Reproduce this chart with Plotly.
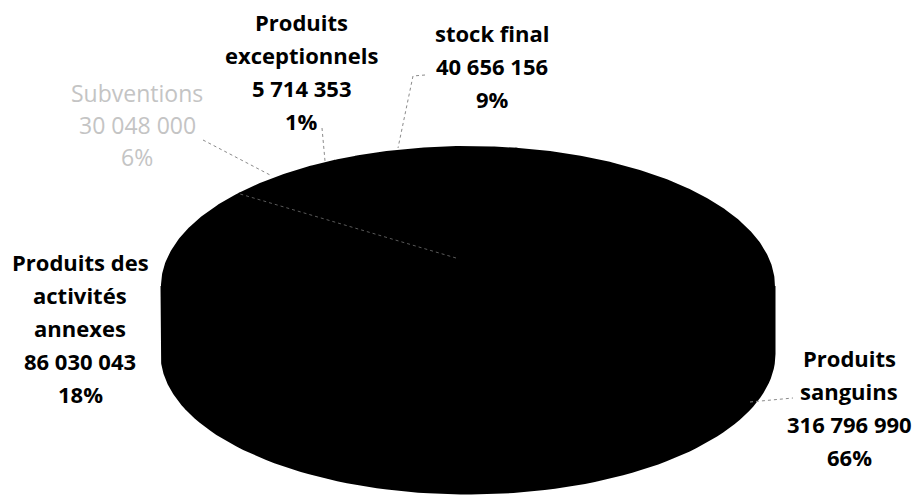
import numpy as np
import plotly.graph_objects as go

# Revenue breakdown (FCFA)
labels = ["Produits sanguins", "Produits des activités annexes", "Subventions",
          "Produits exceptionnels", "stock final"]
values = [316796990, 86030043, 30048000, 5714353, 40656156]
shares = ["66%", "18%", "6%", "1%", "9%"]
name_lines = [["Produits", "sanguins"], ["Produits des", "activités", "annexes"],
              ["Subventions"], ["Produits", "exceptionnels"], ["stock final"]]

# 3-D pie geometry (pixel units of the hidden axes)
CX, CY = 468, 286          # centre of the top ellipse
RX, RY = 306, 139          # radii of the top ellipse
DEPTH = 68                 # thickness of the disc
APEX = (456, 258)          # apparent centre of the slices (perspective)
ROTATION = 9               # angle of first slice, degrees clockwise from 12 o'clock

FONT = "Open Sans"
LINE_GAP = 33


def edge(theta_deg, dy=0.0):
    t = np.radians(theta_deg)
    return CX + RX * np.sin(t), CY - RY * np.cos(t) + dy


total = float(sum(values))
bounds = ROTATION + 360.0 * np.concatenate([[0], np.cumsum(values)]) / total

fig = go.Figure()

# side walls (only the front half is visible)
for a0, a1 in zip(bounds[:-1], bounds[1:]):
    lo, hi = max(a0, 90), min(a1, 270)
    if hi <= lo:
        continue
    th = np.linspace(lo, hi, 80)
    xt, yt = edge(th)
    xb, yb = edge(th[::-1], DEPTH)
    fig.add_trace(go.Scatter(x=np.r_[xt, xb, xt[0]], y=np.r_[yt, yb, yt[0]], mode="lines",
                             fill="toself", fillcolor="black",
                             line=dict(color="black", width=3),
                             hoverinfo="skip", showlegend=False))

# top faces
for a0, a1 in zip(bounds[:-1], bounds[1:]):
    th = np.linspace(a0, a1, max(8, int((a1 - a0) * 2)))
    xs, ys = edge(th)
    fig.add_trace(go.Scatter(x=np.r_[APEX[0], xs, APEX[0]], y=np.r_[APEX[1], ys, APEX[1]],
                             mode="lines", fill="toself", fillcolor="black",
                             line=dict(color="black", width=2),
                             hoverinfo="skip", showlegend=False))

# faint edge between the annex and subsidy slices
bx, by = edge(bounds[2])
fig.add_trace(go.Scatter(x=[APEX[0], bx], y=[APEX[1], by], mode="lines",
                         line=dict(color="#5a5a5a", width=1, dash="dot"),
                         hoverinfo="skip", showlegend=False))

# data labels: (centre x, first line y, colour, weight, size, line gap)
label_pos = [
    (849, 358, "black", "bold", 22, LINE_GAP),
    (80, 262, "black", "bold", 22, LINE_GAP),
    (137, 93, "#c4c4c4", "normal", 23, 32),
    (301, 22, "black", "bold", 22, LINE_GAP),
    (492, 33, "black", "bold", 22, LINE_GAP),
]
for names, v, s, (x, y0, col, wt, sz, gap) in zip(name_lines, values, shares, label_pos):
    lines = names + [f"{v:,}".replace(",", " "), s]
    for k, txt in enumerate(lines):
        fig.add_annotation(x=x, y=y0 + k * gap, text=txt, showarrow=False,
                           xanchor="center", yanchor="middle",
                           font=dict(family=FONT, size=sz, color=col, weight=wt))

# leader lines
leaders = [
    [(750, 402), (793, 398)],
    [(203, 140), (272, 176)],
    [(322, 128), (325, 161)],
    [(425, 75), (413, 76), (398, 148)],
]
for pts in leaders:
    for (x0, y0), (x1, y1) in zip(pts[:-1], pts[1:]):
        fig.add_shape(type="line", x0=x0, y0=y0, x1=x1, y1=y1,
                      line=dict(color="#8a8a8a", width=1, dash="dot"))

fig.update_layout(
    width=920, height=495,
    margin=dict(l=0, r=0, t=0, b=0),
    paper_bgcolor="white", plot_bgcolor="white",
    xaxis=dict(range=[0, 920], visible=False, fixedrange=True),
    yaxis=dict(range=[495, 0], visible=False, fixedrange=True),
    showlegend=False,
)

fig.write_html("out.html")
